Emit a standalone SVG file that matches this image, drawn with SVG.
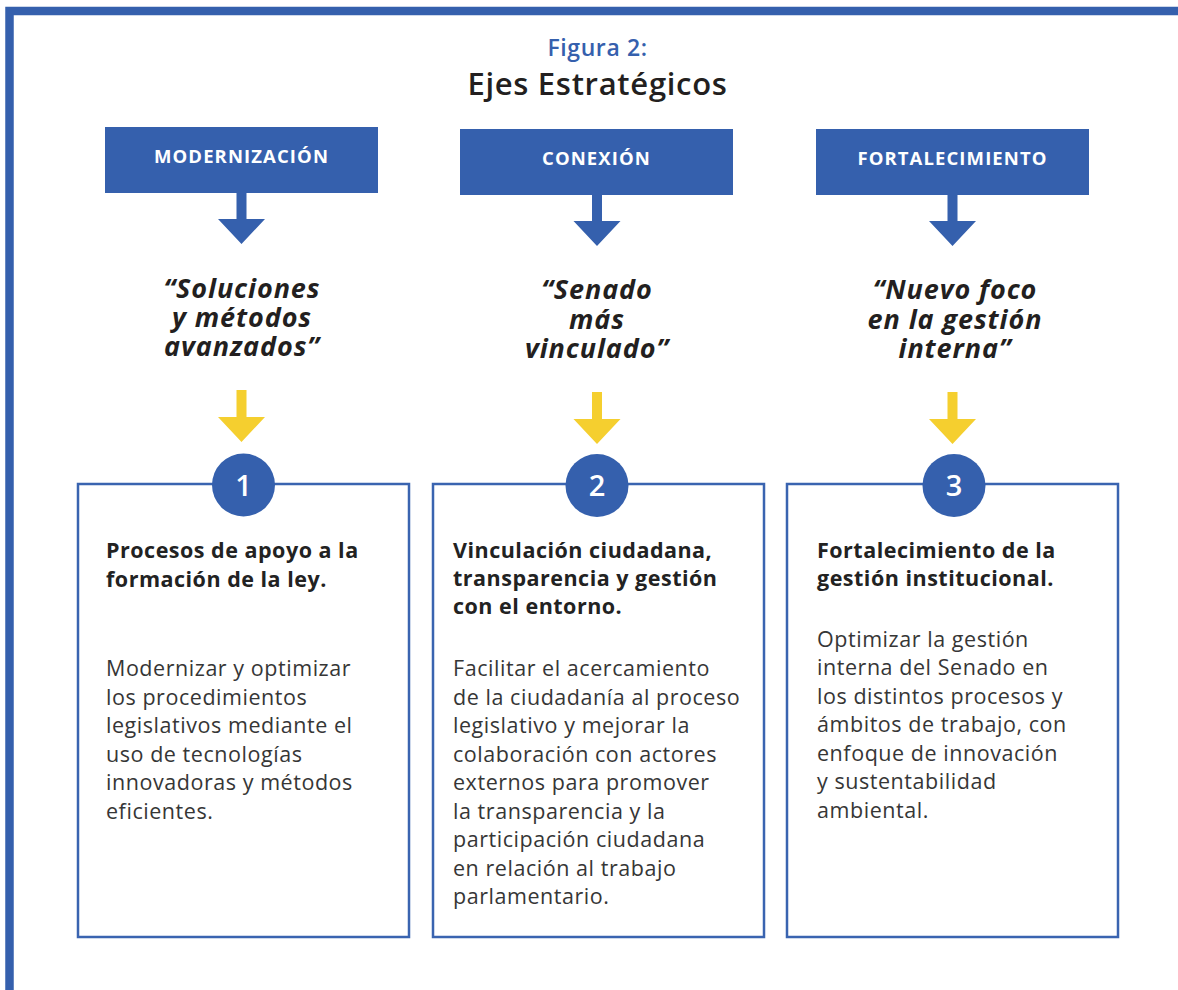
<svg xmlns="http://www.w3.org/2000/svg" width="1178" height="990" viewBox="0 0 1178 990">
<style>
text{font-family:"Open Sans","Liberation Sans",sans-serif}
.frame{fill:none;stroke:#3560AD;stroke-width:8.5;stroke-linejoin:miter}
.hdr{fill:#3560AD}
.hdrtxt{font-weight:700;font-size:18.5px;fill:#fff;letter-spacing:1.1px;text-anchor:middle}
.quote{font-weight:700;font-style:italic;font-size:27px;letter-spacing:0.9px;fill:#231F20;text-anchor:middle}
.card{fill:#fff;stroke:#3A64B0;stroke-width:2.5}
.numc{fill:#3560AD}
.num{font-weight:600;font-size:29px;fill:#fff;text-anchor:middle}
.h{font-weight:700;font-size:21.5px;fill:#222;letter-spacing:0.5px}
.b{font-weight:400;font-size:21.5px;fill:#363636;letter-spacing:0.55px}
.ba{fill:#3560AD}
.ya{fill:#F5CF2F}
</style>
<rect width="1178" height="990" fill="#fff"/>
<path class="frame" d="M9.5 990 V11 H1178"/>
<g id="title">
<text x="597.5" y="56" font-weight="600" font-size="23" letter-spacing="0.6" fill="#3560AD" text-anchor="middle">Figura 2:</text>
<text x="597.5" y="95" font-weight="600" font-size="31" letter-spacing="0.7" fill="#231F20" text-anchor="middle">Ejes Estratégicos</text>
</g>
<g id="header-modernizacion"><rect class="hdr" x="105" y="127" width="273" height="66"/><text class="hdrtxt" x="241.5" y="163">MODERNIZACIÓN</text></g>
<g id="header-conexion"><rect class="hdr" x="460" y="129" width="273" height="66"/><text class="hdrtxt" x="596.5" y="165">CONEXIÓN</text></g>
<g id="header-fortalecimiento"><rect class="hdr" x="816" y="129" width="273" height="66"/><text class="hdrtxt" x="952.5" y="165">FORTALECIMIENTO</text></g>
<g id="connectors">
<polygon class="ba" points="236.5,192 246.5,192 246.5,219 265,219 241.5,244 218,219 236.5,219"/>
<polygon class="ba" points="592,194 602,194 602,221 620.5,221 597,246 573.5,221 592,221"/>
<polygon class="ba" points="947.5,194 957.5,194 957.5,221 976,221 952.5,246 929,221 947.5,221"/>
<polygon class="ya" points="236.5,390 246.5,390 246.5,417 265,417 241.5,442 218,417 236.5,417"/>
<polygon class="ya" points="592,392 602,392 602,419 620.5,419 597,444 573.5,419 592,419"/>
<polygon class="ya" points="947.5,392 957.5,392 957.5,419 976,419 952.5,444 929,419 947.5,419"/>
</g>
<g id="quote-1"><text class="quote"><tspan x="242" y="298">“Soluciones</tspan><tspan x="242" y="327">y métodos</tspan><tspan x="242" y="356">avanzados”</tspan></text></g>
<g id="quote-2"><text class="quote"><tspan x="597" y="299">“Senado</tspan><tspan x="597" y="328.5">más</tspan><tspan x="597" y="358">vinculado”</tspan></text></g>
<g id="quote-3"><text class="quote"><tspan x="955" y="299">“Nuevo foco</tspan><tspan x="955" y="328.5">en la gestión</tspan><tspan x="955" y="358">interna”</tspan></text></g>
<g id="card-1">
<rect class="card" x="78" y="484" width="331" height="453"/>
<circle class="numc" cx="243.5" cy="485" r="31.5"/>
<text class="num" x="243.5" y="495.5">1</text>
<text class="h"><tspan x="106" y="558">Procesos de apoyo a la</tspan><tspan x="106" y="586.5">formación de la ley.</tspan></text>
<text class="b"><tspan x="106" y="676">Modernizar y optimizar</tspan><tspan x="106" y="704.5">los procedimientos</tspan><tspan x="106" y="733">legislativos mediante el</tspan><tspan x="106" y="761.5">uso de tecnologías</tspan><tspan x="106" y="790">innovadoras y métodos</tspan><tspan x="106" y="818.5">eficientes.</tspan></text>
</g>
<g id="card-2">
<rect class="card" x="433" y="484" width="331" height="453"/>
<circle class="numc" cx="597" cy="485.5" r="31.5"/>
<text class="num" x="597" y="496">2</text>
<text class="h"><tspan x="453" y="558">Vinculación ciudadana,</tspan><tspan x="453" y="586">transparencia y gestión</tspan><tspan x="453" y="614">con el entorno.</tspan></text>
<text class="b"><tspan x="453" y="676">Facilitar el acercamiento</tspan><tspan x="453" y="704.5">de la ciudadanía al proceso</tspan><tspan x="453" y="733">legislativo y mejorar la</tspan><tspan x="453" y="761.5">colaboración con actores</tspan><tspan x="453" y="790">externos para promover</tspan><tspan x="453" y="818.5">la transparencia y la</tspan><tspan x="453" y="847">participación ciudadana</tspan><tspan x="453" y="875.5">en relación al trabajo</tspan><tspan x="453" y="904">parlamentario.</tspan></text>
</g>
<g id="card-3">
<rect class="card" x="787" y="484" width="331" height="453"/>
<circle class="numc" cx="954" cy="485.5" r="31.5"/>
<text class="num" x="954" y="496">3</text>
<text class="h"><tspan x="817" y="558">Fortalecimiento de la</tspan><tspan x="817" y="586">gestión institucional.</tspan></text>
<text class="b"><tspan x="817" y="646.5">Optimizar la gestión</tspan><tspan x="817" y="675">interna del Senado en</tspan><tspan x="817" y="703.5">los distintos procesos y</tspan><tspan x="817" y="732">ámbitos de trabajo, con</tspan><tspan x="817" y="760.5">enfoque de innovación</tspan><tspan x="817" y="789">y sustentabilidad</tspan><tspan x="817" y="817.5">ambiental.</tspan></text>
</g>
</svg>
